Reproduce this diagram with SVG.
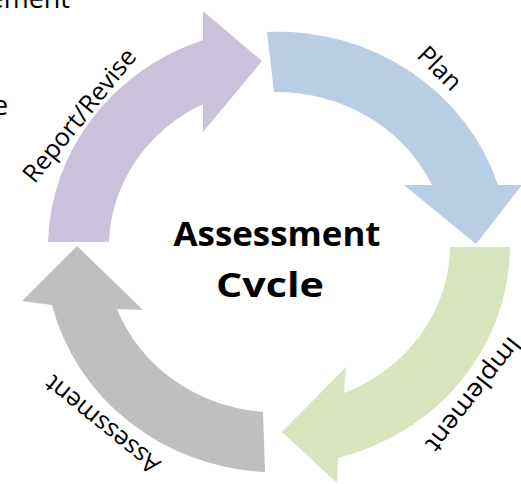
<svg xmlns="http://www.w3.org/2000/svg" width="521" height="484" viewBox="0 0 521 484">
<style>
.lbl{font-family:"Open Sans","Liberation Sans",sans-serif;font-size:25px;fill:#000;text-anchor:middle}
.ctr{font-family:"Open Sans","Liberation Sans",sans-serif;font-size:34px;font-weight:bold;fill:#000;text-anchor:middle}
</style>
<rect width="521" height="484" fill="#fff"/>
<text class="lbl" x="70" y="8" style="text-anchor:end;font-size:27px">ement</text>
<text class="lbl" x="-7" y="115" style="text-anchor:start;font-size:27px">e</text>
<g id="connectors">
<g id="arrow-plan"><path d="M267,32 A231,220 0 0,1 498,185 L522,185 L476,244 L404,185 L432,185 A171,160 0 0,0 274,92 Z" fill="#B9CDE5"/></g>
<g id="arrow-implement"><path d="M510,247 A231,220 0 0,1 338,458 L337,483 L282,432 L346,367 L344,393 A171,160 0 0,0 450,247 Z" fill="#D7E4BD"/></g>
<g id="arrow-assessment"><path d="M265,472 A231,220 0 0,1 52,305 L22,301 L77,246 L143,310 L117,309 A171,160 0 0,0 263,412 Z" fill="#BFBFBF"/></g>
<g id="arrow-report"><path d="M48,242 A231,220 0 0,1 203,40 L203,11 L262,61 L203,132 L203,104 A171,160 0 0,0 109,242 Z" fill="#CCC1DA"/></g>
</g>
<g id="label-plan"><text class="lbl" transform="translate(440,68) rotate(45)" y="9">Plan</text></g>
<g id="label-implement"><text class="lbl" transform="translate(474,395) rotate(128)" y="9" textLength="138" lengthAdjust="spacingAndGlyphs">Implement</text></g>
<g id="label-assessment"><text class="lbl" transform="translate(102,425) rotate(219)" y="9" textLength="140" lengthAdjust="spacingAndGlyphs">Assessment</text></g>
<g id="label-report"><text class="lbl" transform="translate(79,115) rotate(-51)" y="9" textLength="164" lengthAdjust="spacingAndGlyphs">Report/Revise</text></g>
<g id="center">
<text class="ctr" x="277" y="246" textLength="207" lengthAdjust="spacingAndGlyphs">Assessment</text>
<text class="ctr" x="270" y="297" textLength="108" lengthAdjust="spacingAndGlyphs">Cvcle</text>
</g>
</svg>
